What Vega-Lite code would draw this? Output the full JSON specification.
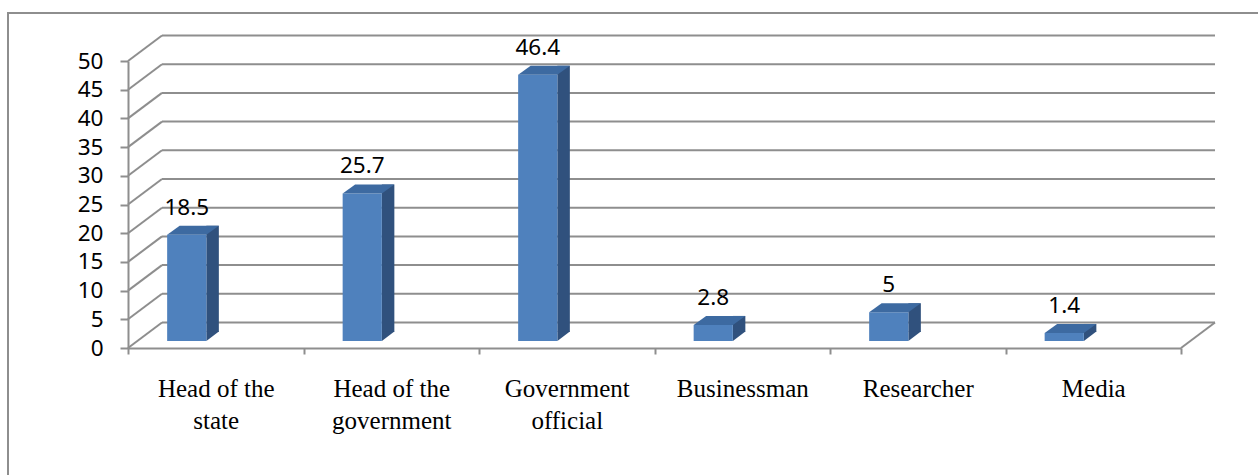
{
  "$schema": "https://vega.github.io/schema/vega-lite/v6.json",
  "width": 1251,
  "height": 463,
  "autosize": {"type": "none"},
  "padding": {"left": 8, "top": 13, "right": 0, "bottom": 0},
  "background": "white",
  "config": {
    "view": {"stroke": "#8e8e8e", "strokeWidth": 2},
    "axisY": {
      "offset": -120,
      "tickCount": 10,
      "tickSize": 8,
      "tickWidth": 2,
      "tickColor": "#8e8e8e",
      "domainColor": "#8e8e8e",
      "domainWidth": 2,
      "grid": false,
      "labelFont": "Noto Sans",
      "labelFontSize": 22.5,
      "labelColor": "#000000",
      "labelPadding": 17,
      "labelFlush": false,
      "labelOverlap": false
    }
  },
  "datasets": {
    "bars": [
      {"category": "Head of the state", "value": 18.5},
      {"category": "Head of the government", "value": 25.7},
      {"category": "Government official", "value": 46.4},
      {"category": "Businessman", "value": 2.8},
      {"category": "Researcher", "value": 5},
      {"category": "Media", "value": 1.4}
    ],
    "grid": [
      {"v": 0}, {"v": 5}, {"v": 10}, {"v": 15}, {"v": 20}, {"v": 25},
      {"v": 30}, {"v": 35}, {"v": 40}, {"v": 45}, {"v": 50}
    ]
  },
  "resolve": {"scale": {"x": "independent"}},
  "layer": [
    {
      "data": {"name": "grid"},
      "mark": {"type": "rule", "color": "#8e8e8e", "strokeWidth": 2, "xOffset": 34, "x2Offset": 34, "yOffset": -25.5},
      "encoding": {
        "x": {"datum": 0, "type": "quantitative", "scale": {"domain": [0, 6], "range": [120, 1173]}, "axis": null},
        "x2": {"datum": 6},
        "y": {"field": "v", "type": "quantitative", "title": null, "scale": {"domain": [0, 50], "range": [335, 48]}}
      }
    },
    {
      "data": {"name": "grid"},
      "mark": {"type": "rule", "color": "#8e8e8e", "strokeWidth": 2, "x2Offset": 34, "y2Offset": -25.5},
      "encoding": {
        "x": {"datum": 0, "type": "quantitative", "scale": {"domain": [0, 6], "range": [120, 1173]}, "axis": null},
        "x2": {"datum": 0},
        "y": {"field": "v", "type": "quantitative", "title": null, "scale": {"domain": [0, 50], "range": [335, 48]}},
        "y2": {"field": "v"}
      }
    },
    {
      "data": {"name": "grid"},
      "transform": [{"filter": "datum.v == 0"}],
      "mark": {"type": "rule", "color": "#8e8e8e", "strokeWidth": 2, "x2Offset": 34, "y2Offset": -25.5},
      "encoding": {
        "x": {"datum": 6, "type": "quantitative", "scale": {"domain": [0, 6], "range": [120, 1173]}, "axis": null},
        "x2": {"datum": 6},
        "y": {"field": "v", "type": "quantitative", "title": null, "scale": {"domain": [0, 50], "range": [335, 48]}},
        "y2": {"field": "v"}
      }
    },
    {
      "data": {"name": "bars"},
      "mark": {"type": "bar", "color": "#30517d", "width": 12.5, "xOffset": -3.15, "yOffset": -16, "y2Offset": -16},
      "encoding": {
        "x": {"field": "category", "type": "nominal", "sort": null, "scale": {"type": "band", "range": [120, 1173], "paddingInner": 0, "paddingOuter": 0}, "axis": null},
        "y": {"field": "value", "type": "quantitative", "title": null, "scale": {"domain": [0, 50], "range": [335, 48]}},
        "y2": {"datum": 0}
      }
    },
    {
      "data": {"name": "bars"},
      "mark": {"type": "point", "filled": true, "opacity": 1, "size": 4, "strokeWidth": 0, "color": "#30517d", "shape": "M-9.4,-7L-9.4,-16.5L3.1,-16.5Z"},
      "encoding": {
        "x": {"field": "category", "type": "nominal", "sort": null, "bandPosition": 0.5, "scale": {"type": "band", "range": [120, 1173], "paddingInner": 0, "paddingOuter": 0}, "axis": null},
        "y": {"datum": 0, "type": "quantitative", "title": null, "scale": {"domain": [0, 50], "range": [335, 48]}}
      }
    },
    {
      "data": {"name": "bars"},
      "mark": {"type": "bar", "color": "#4f81bd", "width": 39.2, "xOffset": -29, "yOffset": -7, "y2Offset": -7},
      "encoding": {
        "x": {
          "field": "category", "type": "nominal", "sort": null,
          "scale": {"type": "band", "range": [120, 1173], "paddingInner": 0, "paddingOuter": 0},
          "axis": {
            "orient": "bottom",
            "offset": -128,
            "title": null,
            "tickBand": "extent",
            "tickSize": 6,
            "tickWidth": 2,
            "tickColor": "#8e8e8e",
            "domainColor": "#8e8e8e",
            "domainWidth": 2,
            "labelAngle": 0,
            "labelFont": "Liberation Serif",
            "labelFontSize": 25,
            "labelColor": "#000000",
            "labelBaseline": "alphabetic",
            "labelPadding": 42.7,
            "labelLineHeight": 31.5,
            "labelLimit": 0,
            "labelOverlap": false,
            "labelExpr": "datum.label == 'Government official' ? ['Government', 'official'] : (indexof(datum.label, 'Head of the ') == 0 ? ['Head of the', substring(datum.label, 12)] : datum.label)"
          }
        },
        "y": {"field": "value", "type": "quantitative", "title": null, "scale": {"domain": [0, 50], "range": [335, 48]}},
        "y2": {"datum": 0}
      }
    },
    {
      "data": {"name": "bars"},
      "mark": {"type": "point", "filled": true, "opacity": 1, "size": 4, "strokeWidth": 0, "color": "#3d6aa1", "shape": "M-48.6,-7L-9.4,-7L3.1,-16L-36.1,-16Z"},
      "encoding": {
        "x": {"field": "category", "type": "nominal", "sort": null, "bandPosition": 0.5, "scale": {"type": "band", "range": [120, 1173], "paddingInner": 0, "paddingOuter": 0}, "axis": null},
        "y": {"field": "value", "type": "quantitative", "title": null, "scale": {"domain": [0, 50], "range": [335, 48]}}
      }
    },
    {
      "data": {"name": "bars"},
      "mark": {"type": "text", "font": "Noto Sans", "fontSize": 22.5, "color": "#000000", "align": "center", "baseline": "alphabetic", "xOffset": -29, "yOffset": -27},
      "encoding": {
        "x": {"field": "category", "type": "nominal", "sort": null, "bandPosition": 0.5, "scale": {"type": "band", "range": [120, 1173], "paddingInner": 0, "paddingOuter": 0}, "axis": null},
        "y": {"field": "value", "type": "quantitative", "title": null, "scale": {"domain": [0, 50], "range": [335, 48]}},
        "text": {"field": "value", "type": "quantitative", "format": "~g"}
      }
    }
  ]
}
